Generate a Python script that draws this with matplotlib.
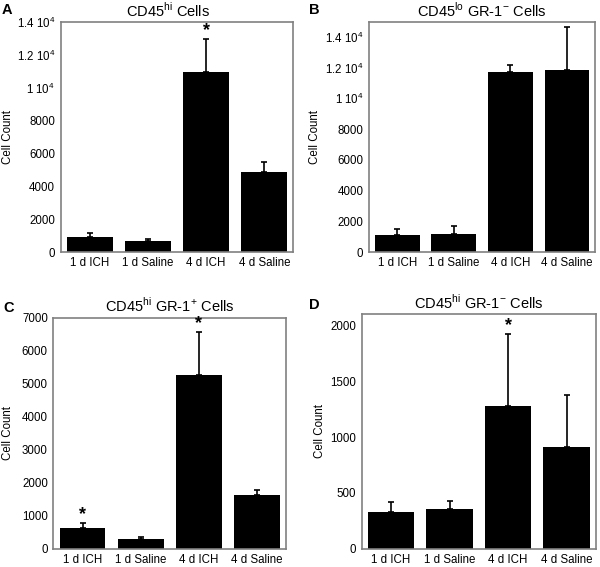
import numpy as np
import matplotlib
matplotlib.use("Agg")
import matplotlib.pyplot as plt

plt.rcParams['font.family'] = ['Liberation Sans', 'DejaVu Sans']
plt.rcParams['mathtext.fontset'] = 'custom'
plt.rcParams['mathtext.rm'] = 'Liberation Sans'

groups = ['1 d ICH', '1 d Saline', '4 d ICH', '4 d Saline']

# panel A: CD45hi
a_mean = [955, 670, 10960, 4880]
a_err = [190, 120, 1990, 630]
a_star = [False, False, True, False]

# panel B: CD45lo GR-1-
b_mean = [1120, 1180, 11720, 11870]
b_err = [390, 520, 440, 2770]
b_star = [False, False, False, False]

# panel C: CD45hi GR-1+
c_mean = [635, 302, 5258, 1622]
c_err = [150, 70, 1290, 160]
c_star = [True, False, True, False]

# panel D: CD45hi GR-1-
d_mean = [331, 361, 1281, 913]
d_err = [84, 66, 644, 460]
d_star = [False, False, True, False]

big_ticks = [0, 2000, 4000, 6000, 8000, 10000, 12000, 14000]
big_labels = ['0', '2000', '4000', '6000', '8000',
              '1 10$^{4}$', '1.2 10$^{4}$', '1.4 10$^{4}$']

panels = [
    dict(letter='A', title='CD45$^{\\mathrm{hi}}$ Cells', mean=a_mean, err=a_err, star=a_star,
         ylim=14000, ticks=big_ticks, labels=big_labels,
         rect=[0.101, 0.555, 0.388, 0.406], title_x=0.46, ylab_x=-0.20),
    dict(letter='B', title='CD45$^{\\mathrm{lo}}$ GR-1$^{-}$ Cells', mean=b_mean, err=b_err, star=b_star,
         ylim=14950, ticks=big_ticks, labels=big_labels,
         rect=[0.615, 0.555, 0.377, 0.406], title_x=0.5, ylab_x=-0.21),
    dict(letter='C', title='CD45$^{\\mathrm{hi}}$ GR-1$^{+}$ Cells', mean=c_mean, err=c_err, star=c_star,
         ylim=7000, ticks=list(range(0, 7001, 1000)), labels=None,
         rect=[0.089, 0.032, 0.388, 0.408], title_x=0.5, ylab_x=-0.17),
    dict(letter='D', title='CD45$^{\\mathrm{hi}}$ GR-1$^{-}$ Cells', mean=d_mean, err=d_err, star=d_star,
         ylim=2100, ticks=list(range(0, 2001, 500)), labels=None,
         rect=[0.603, 0.032, 0.39, 0.414], title_x=0.5, ylab_x=-0.155),
]

fig = plt.figure(figsize=(6, 5.67), dpi=100)
x = np.arange(len(groups))

for p in panels:
    ax = fig.add_axes(p['rect'])
    ax.bar(x, p['mean'], width=0.79, color='black', zorder=2)
    ax.errorbar(x, p['mean'], yerr=[np.zeros(len(x)), p['err']], fmt='none',
                ecolor='black', elinewidth=1.2, capsize=2, capthick=1.2, zorder=1)
    for xi, m, e, s in zip(x, p['mean'], p['err'], p['star']):
        if s:
            ax.annotate('*', (xi, m + e), xytext=(0, 0), textcoords='offset points',
                        ha='center', va='bottom', fontsize=13, fontweight='bold')
    ax.set_xlim(-0.5, 3.5)
    ax.set_ylim(0, p['ylim'])
    ax.set_xticks(x)
    ax.set_xticklabels(groups)
    ax.set_yticks(p['ticks'])
    if p['labels'] is not None:
        ax.set_yticklabels(p['labels'])
    ax.tick_params(length=0, labelsize=8.3)
    ax.tick_params(axis='x', pad=3.5)
    ax.tick_params(axis='y', pad=4)
    for sp in ax.spines.values():
        sp.set_color('#808080')
        sp.set_linewidth(1.2)
    ax.set_ylabel('Cell Count', fontsize=8.3)
    ax.yaxis.set_label_coords(p['ylab_x'], 0.5)
    ax.set_title(p['title'], fontsize=10.5, x=p['title_x'], pad=4)

fig.text(0.003, 0.995, 'A', fontsize=10.5, fontweight='bold', va='top', ha='left')
fig.text(0.515, 0.995, 'B', fontsize=10.5, fontweight='bold', va='top', ha='left')
fig.text(0.005, 0.47, 'C', fontsize=10.5, fontweight='bold', va='top', ha='left')
fig.text(0.515, 0.475, 'D', fontsize=10.5, fontweight='bold', va='top', ha='left')

fig.savefig('out.png', dpi=100)
